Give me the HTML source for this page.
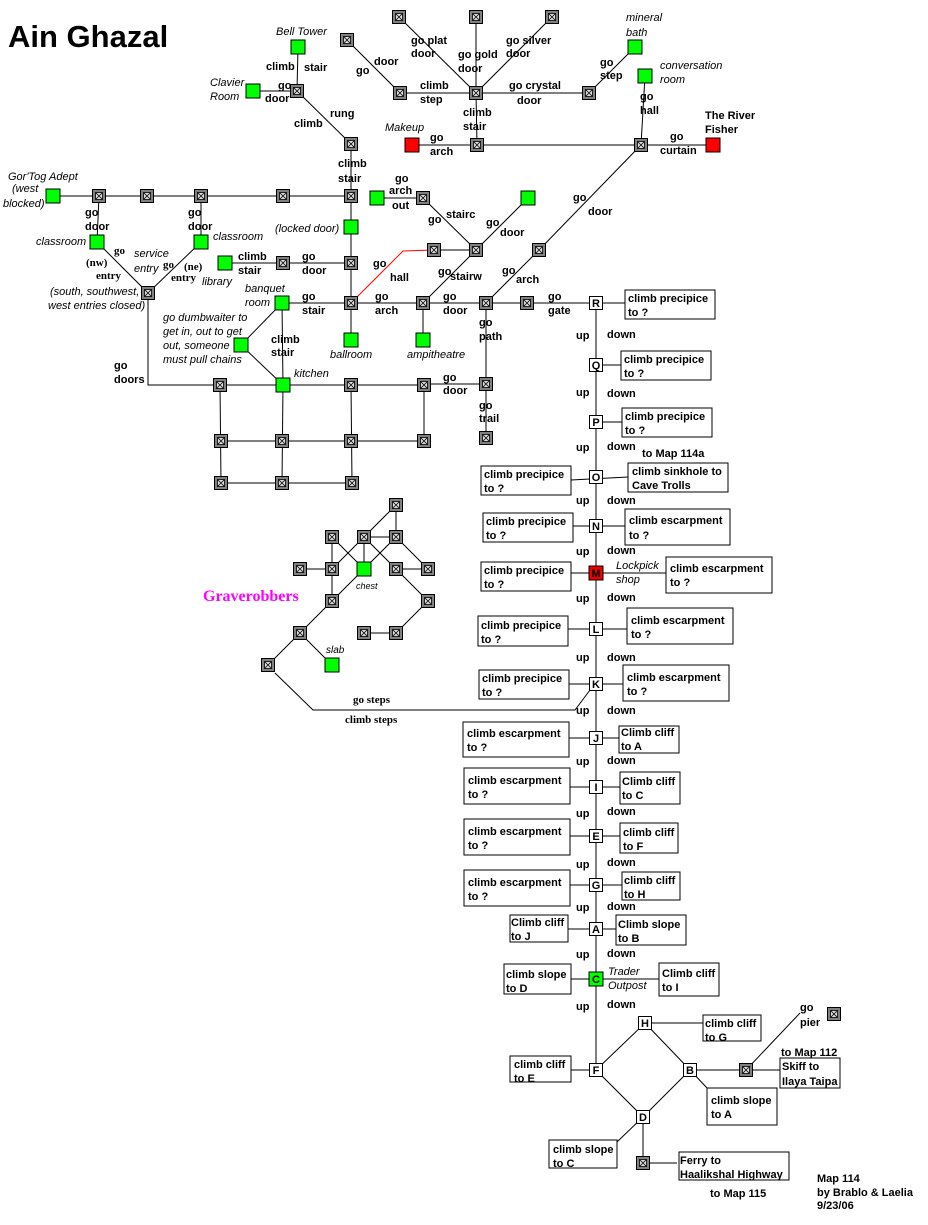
<!DOCTYPE html>
<html><head><meta charset="utf-8"><style>
html,body{margin:0;padding:0;background:#fff;}
svg{display:block}
.b{font:bold 11px "Liberation Sans",sans-serif;fill:#000}
.i{font:italic 11px "Liberation Sans",sans-serif;fill:#000}
.s{font:bold 11px "Liberation Serif",serif;fill:#000}
line,polyline{stroke:#000;stroke-width:1;fill:none}
.bx{fill:#fff;stroke:#000;stroke-width:1}
.gr{fill:#00ff00;stroke:#000}
.rd{fill:#ff0000;stroke:#000}
</style></head><body>
<svg width="928" height="1225" viewBox="0 0 928 1225" xmlns="http://www.w3.org/2000/svg">
<defs>
<g id="g"><rect x="-6.5" y="-6.5" width="13" height="13" fill="#808080" stroke="#000"/><rect x="-3.5" y="-3.5" width="7" height="7" fill="#ddd" stroke="#000" stroke-width="0.8"/><path d="M-3.5-3.5L3.5 3.5M3.5-3.5L-3.5 3.5" stroke="#000" stroke-width="0.8"/></g>
<rect id="n" x="-7" y="-7" width="14" height="14" fill="#00ff00" stroke="#000"/>
<rect id="w" x="-6.5" y="-6.5" width="13" height="13" fill="#fff" stroke="#000"/>
</defs>
<text x="8" y="47" style="font:bold 31px 'Liberation Sans',sans-serif;letter-spacing:0px">Ain Ghazal</text>

<line x1="298" y1="47" x2="297" y2="91"/><line x1="253" y1="91" x2="297" y2="91"/>
<line x1="297" y1="91" x2="351" y2="144"/><line x1="351" y1="144" x2="351" y2="340"/>
<line x1="53" y1="196" x2="351" y2="196"/>
<line x1="99" y1="196" x2="97" y2="242"/><line x1="201" y1="196" x2="201" y2="242"/>
<line x1="97" y1="242" x2="148" y2="293"/><line x1="201" y1="242" x2="148" y2="293"/>
<polyline points="148,293 148,385 220,385"/>
<line x1="225" y1="263" x2="351" y2="263"/>
<line x1="377" y1="198" x2="423" y2="198"/><line x1="423" y1="198" x2="476" y2="250"/>
<polyline points="434,250 403,251 357,297" style="stroke:#f00"/>
<line x1="434" y1="250" x2="476" y2="250"/>
<line x1="476" y1="250" x2="528" y2="198"/><line x1="476" y1="250" x2="423" y2="303"/>
<line x1="539" y1="250" x2="641" y2="145"/><line x1="539" y1="250" x2="486" y2="303"/>
<line x1="282" y1="303" x2="595" y2="303"/><line x1="595" y1="303" x2="625" y2="303"/>
<line x1="423" y1="303" x2="423" y2="340"/>
<line x1="486" y1="303" x2="486" y2="438"/>
<line x1="424" y1="384" x2="486" y2="384"/>
<line x1="282" y1="303" x2="283" y2="385"/><line x1="282" y1="303" x2="241" y2="345"/><line x1="241" y1="345" x2="283" y2="385"/>
<line x1="220" y1="385" x2="424" y2="385"/><line x1="221" y1="441" x2="424" y2="441"/><line x1="221" y1="483" x2="352" y2="483"/>
<line x1="220" y1="385" x2="221" y2="483"/><line x1="283" y1="385" x2="282" y2="483"/><line x1="351" y1="385" x2="352" y2="483"/><line x1="424" y1="385" x2="424" y2="441"/>
<line x1="347" y1="40" x2="400" y2="93"/><line x1="399" y1="17" x2="476" y2="93"/><line x1="476" y1="17" x2="476" y2="93"/><line x1="552" y1="17" x2="476" y2="93"/>
<line x1="400" y1="93" x2="589" y2="93"/><line x1="589" y1="93" x2="635" y2="47"/>
<line x1="476" y1="93" x2="477" y2="145"/><line x1="412" y1="145" x2="713" y2="145"/><line x1="641" y1="145" x2="645" y2="76"/>
<line x1="396" y1="505" x2="396" y2="537"/><line x1="396" y1="505" x2="364" y2="537"/><line x1="364" y1="537" x2="396" y2="537"/>
<line x1="364" y1="537" x2="364" y2="569"/><line x1="332" y1="537" x2="332" y2="601"/><line x1="300" y1="569" x2="332" y2="569"/>
<line x1="332" y1="537" x2="364" y2="569"/><line x1="364" y1="537" x2="332" y2="569"/><line x1="396" y1="537" x2="364" y2="569"/>
<line x1="364" y1="537" x2="396" y2="569"/><line x1="396" y1="569" x2="428" y2="569"/><line x1="396" y1="537" x2="428" y2="569"/>
<line x1="396" y1="569" x2="428" y2="601"/><line x1="428" y1="601" x2="396" y2="633"/><line x1="364" y1="633" x2="396" y2="633"/>
<line x1="332" y1="601" x2="364" y2="569"/><line x1="332" y1="601" x2="300" y2="633"/><line x1="300" y1="633" x2="332" y2="665"/><line x1="300" y1="633" x2="268" y2="665"/>
<polyline points="275,673 313,710 575,710 590,690"/>
<line x1="596" y1="303" x2="596" y2="1070"/>
<line x1="596" y1="1070" x2="645" y2="1023"/><line x1="645" y1="1023" x2="690" y2="1070"/><line x1="596" y1="1070" x2="643" y2="1117"/><line x1="643" y1="1117" x2="690" y2="1070"/>
<line x1="645" y1="1023" x2="703" y2="1023"/><line x1="690" y1="1070" x2="780" y2="1070"/><line x1="746" y1="1070" x2="800" y2="1013"/><line x1="690" y1="1070" x2="708" y2="1089"/>
<line x1="643" y1="1117" x2="617" y2="1142"/><line x1="643" y1="1117" x2="643" y2="1163"/><line x1="643" y1="1163" x2="677" y2="1163"/>
<line x1="571" y1="480" x2="628" y2="477"/><line x1="573" y1="526" x2="625" y2="526"/><line x1="571" y1="573" x2="666" y2="573"/>
<line x1="568" y1="629" x2="627" y2="629"/><line x1="569" y1="684" x2="623" y2="684"/><line x1="569" y1="738" x2="619" y2="738"/>
<line x1="570" y1="787" x2="620" y2="787"/><line x1="570" y1="836" x2="620" y2="836"/><line x1="570" y1="885" x2="622" y2="885"/>
<line x1="568" y1="929" x2="616" y2="929"/><line x1="571" y1="979" x2="659" y2="979"/><line x1="571" y1="1070" x2="596" y2="1070"/>
<line x1="596" y1="365" x2="621" y2="365"/><line x1="596" y1="422" x2="622" y2="422"/>

<use href="#g" x="297" y="91"/><use href="#g" x="351" y="144"/><use href="#g" x="99" y="196"/><use href="#g" x="147" y="196"/><use href="#g" x="201" y="196"/><use href="#g" x="283" y="196"/><use href="#g" x="351" y="196"/>
<use href="#g" x="351" y="263"/><use href="#g" x="283" y="263"/><use href="#g" x="148" y="293"/><use href="#g" x="423" y="198"/><use href="#g" x="434" y="250"/><use href="#g" x="476" y="250"/><use href="#g" x="539" y="250"/>
<use href="#g" x="351" y="303"/><use href="#g" x="423" y="303"/><use href="#g" x="486" y="303"/><use href="#g" x="527" y="303"/><use href="#g" x="486" y="384"/><use href="#g" x="486" y="438"/>
<use href="#g" x="220" y="385"/><use href="#g" x="351" y="385"/><use href="#g" x="424" y="385"/><use href="#g" x="221" y="441"/><use href="#g" x="282" y="441"/><use href="#g" x="351" y="441"/><use href="#g" x="424" y="441"/><use href="#g" x="221" y="483"/><use href="#g" x="282" y="483"/><use href="#g" x="352" y="483"/>
<use href="#g" x="399" y="17"/><use href="#g" x="476" y="17"/><use href="#g" x="552" y="17"/><use href="#g" x="347" y="40"/><use href="#g" x="400" y="93"/><use href="#g" x="476" y="93"/><use href="#g" x="589" y="93"/><use href="#g" x="477" y="145"/><use href="#g" x="641" y="145"/>
<use href="#g" x="396" y="505"/><use href="#g" x="332" y="537"/><use href="#g" x="364" y="537"/><use href="#g" x="396" y="537"/><use href="#g" x="300" y="569"/><use href="#g" x="332" y="569"/><use href="#g" x="396" y="569"/><use href="#g" x="428" y="569"/><use href="#g" x="332" y="601"/><use href="#g" x="428" y="601"/><use href="#g" x="300" y="633"/><use href="#g" x="364" y="633"/><use href="#g" x="396" y="633"/><use href="#g" x="268" y="665"/>
<use href="#g" x="746" y="1070"/><use href="#g" x="834" y="1014"/><use href="#g" x="643" y="1163"/>
<use href="#n" x="298" y="47"/><use href="#n" x="253" y="91"/><use href="#n" x="53" y="196"/><use href="#n" x="97" y="242"/><use href="#n" x="201" y="242"/><use href="#n" x="351" y="227"/><use href="#n" x="225" y="263"/><use href="#n" x="377" y="198"/><use href="#n" x="528" y="198"/>
<use href="#n" x="282" y="303"/><use href="#n" x="351" y="340"/><use href="#n" x="423" y="340"/><use href="#n" x="241" y="345"/><use href="#n" x="283" y="385"/><use href="#n" x="635" y="47"/><use href="#n" x="645" y="76"/><use href="#n" x="364" y="569"/><use href="#n" x="332" y="665"/>
<rect x="405" y="138" width="14" height="14" class="rd"/><rect x="706" y="138" width="14" height="14" class="rd"/>
<g class="b" text-anchor="middle">
<use href="#w" x="596" y="303"/><text x="596" y="307">R</text>
<use href="#w" x="596" y="365"/><text x="596" y="369">Q</text>
<use href="#w" x="596" y="422"/><text x="596" y="426">P</text>
<use href="#w" x="596" y="477"/><text x="596" y="481">O</text>
<use href="#w" x="596" y="526"/><text x="596" y="530">N</text>
<rect x="589" y="566" width="14" height="14" fill="#e00" stroke="#000"/><text x="596" y="577">M</text>
<use href="#w" x="596" y="629"/><text x="596" y="633">L</text>
<use href="#w" x="596" y="684"/><text x="596" y="688">K</text>
<use href="#w" x="596" y="738"/><text x="596" y="742">J</text>
<use href="#w" x="596" y="787"/><text x="596" y="791">I</text>
<use href="#w" x="596" y="836"/><text x="596" y="840">E</text>
<use href="#w" x="596" y="885"/><text x="596" y="889">G</text>
<use href="#w" x="596" y="929"/><text x="596" y="933">A</text>
<use href="#n" x="596" y="979"/><text x="596" y="983">C</text>
<use href="#w" x="596" y="1070"/><text x="596" y="1074">F</text>
<use href="#w" x="645" y="1023"/><text x="645" y="1027">H</text>
<use href="#w" x="690" y="1070"/><text x="690" y="1074">B</text>
<use href="#w" x="643" y="1117"/><text x="643" y="1121">D</text>
</g>
<g class="b">
<rect class="bx" x="625" y="290" width="90" height="29"/><text x="628" y="302">climb precipice</text><text x="628" y="316">to ?</text>
<rect class="bx" x="621" y="351" width="90" height="29"/><text x="624" y="363">climb precipice</text><text x="624" y="377">to ?</text>
<rect class="bx" x="622" y="408" width="90" height="29"/><text x="625" y="420">climb precipice</text><text x="625" y="434">to ?</text>
<rect class="bx" x="481" y="466" width="90" height="29"/><text x="484" y="478">climb precipice</text><text x="484" y="492">to ?</text>
<rect class="bx" x="628" y="463" width="100" height="29"/><text x="632" y="475">climb sinkhole to</text><text x="632" y="489">Cave Trolls</text>
<rect class="bx" x="483" y="513" width="90" height="29"/><text x="486" y="525">climb precipice</text><text x="486" y="539">to ?</text>
<rect class="bx" x="625" y="509" width="105" height="36"/><text x="629" y="524">climb escarpment</text><text x="629" y="539">to ?</text>
<rect class="bx" x="481" y="562" width="90" height="29"/><text x="484" y="574">climb precipice</text><text x="484" y="588">to ?</text>
<rect class="bx" x="666" y="557" width="106" height="36"/><text x="670" y="572">climb escarpment</text><text x="670" y="586">to ?</text>
<rect class="bx" x="478" y="616" width="90" height="30"/><text x="481" y="629">climb precipice</text><text x="481" y="643">to ?</text>
<rect class="bx" x="627" y="608" width="106" height="36"/><text x="631" y="624">climb escarpment</text><text x="631" y="638">to ?</text>
<rect class="bx" x="479" y="670" width="90" height="29"/><text x="482" y="682">climb precipice</text><text x="482" y="696">to ?</text>
<rect class="bx" x="623" y="665" width="106" height="36"/><text x="627" y="681">climb escarpment</text><text x="627" y="695">to ?</text>
<rect class="bx" x="463" y="722" width="106" height="35"/><text x="467" y="737">climb escarpment</text><text x="467" y="751">to ?</text>
<rect class="bx" x="619" y="726" width="60" height="27"/><text x="621" y="736">Climb cliff</text><text x="621" y="750">to A</text>
<rect class="bx" x="464" y="768" width="106" height="36"/><text x="468" y="784">climb escarpment</text><text x="468" y="798">to ?</text>
<rect class="bx" x="620" y="772" width="60" height="32"/><text x="622" y="785">Climb cliff</text><text x="622" y="799">to C</text>
<rect class="bx" x="464" y="819" width="106" height="36"/><text x="468" y="835">climb escarpment</text><text x="468" y="849">to ?</text>
<rect class="bx" x="620" y="823" width="58" height="30"/><text x="623" y="836">climb cliff</text><text x="623" y="850">to F</text>
<rect class="bx" x="464" y="870" width="106" height="36"/><text x="468" y="886">climb escarpment</text><text x="468" y="900">to ?</text>
<rect class="bx" x="622" y="872" width="58" height="28"/><text x="624" y="884">climb cliff</text><text x="624" y="898">to H</text>
<rect class="bx" x="510" y="915" width="58" height="27"/><text x="511" y="926">Climb cliff</text><text x="511" y="940">to J</text>
<rect class="bx" x="616" y="915" width="70" height="30"/><text x="618" y="928">Climb slope</text><text x="618" y="942">to B</text>
<rect class="bx" x="504" y="964" width="67" height="30"/><text x="506" y="978">climb slope</text><text x="506" y="992">to D</text>
<rect class="bx" x="659" y="963" width="60" height="33"/><text x="662" y="977">Climb cliff</text><text x="662" y="991">to I</text>
<rect class="bx" x="510" y="1056" width="61" height="26"/><text x="514" y="1068">climb cliff</text><text x="514" y="1082">to E</text>
<rect class="bx" x="703" y="1015" width="58" height="26"/><text x="705" y="1027">climb cliff</text><text x="705" y="1041">to G</text>
<rect class="bx" x="780" y="1058" width="60" height="30"/><text x="782" y="1070">Skiff to</text><text x="782" y="1085">Ilaya Taipa</text>
<rect class="bx" x="707" y="1088" width="70" height="37"/><text x="711" y="1104">climb slope</text><text x="711" y="1118">to A</text>
<rect class="bx" x="549" y="1140" width="68" height="28"/><text x="553" y="1153">climb slope</text><text x="553" y="1167">to C</text>
<rect class="bx" x="679" y="1152" width="110" height="28"/><text x="680" y="1164">Ferry to</text><text x="680" y="1178">Haalikshal Highway</text>
</g>
<g class="b">
<text x="576" y="339">up</text><text x="607" y="338">down</text>
<text x="576" y="396">up</text><text x="607" y="397">down</text>
<text x="576" y="451">up</text><text x="607" y="450">down</text><text x="642" y="457">to Map 114a</text>
<text x="576" y="504">up</text><text x="607" y="504">down</text>
<text x="576" y="555">up</text><text x="607" y="554">down</text>
<text x="576" y="602">up</text><text x="607" y="601">down</text>
<text x="576" y="661">up</text><text x="607" y="661">down</text>
<text x="576" y="714">up</text><text x="607" y="714">down</text>
<text x="576" y="765">up</text><text x="607" y="764">down</text>
<text x="576" y="817">up</text><text x="607" y="815">down</text>
<text x="576" y="868">up</text><text x="607" y="866">down</text>
<text x="576" y="911">up</text><text x="607" y="910">down</text>
<text x="576" y="958">up</text><text x="607" y="957">down</text>
<text x="576" y="1010">up</text><text x="607" y="1008">down</text>
<text x="781" y="1056">to Map 112</text><text x="800" y="1011">go</text><text x="800" y="1026">pier</text>
<text x="710" y="1197">to Map 115</text>
<text x="817" y="1182">Map 114</text><text x="817" y="1196">by Brablo &amp; Laelia</text><text x="817" y="1209">9/23/06</text>
</g>
<g class="i"><text x="608" y="975">Trader</text><text x="608" y="989">Outpost</text><text x="616" y="569">Lockpick</text><text x="616" y="583">shop</text></g>
<g class="b">
<text x="266" y="70">climb</text><text x="304" y="71">stair</text>
<text x="278" y="89">go</text><text x="265" y="102">door</text>
<text x="330" y="117">rung</text><text x="294" y="127">climb</text>
<text x="338" y="167">climb</text><text x="338" y="182">stair</text>
<text x="85" y="216">go</text><text x="85" y="230">door</text><text x="188" y="216">go</text><text x="188" y="230">door</text>
<text x="238" y="260">climb</text><text x="238" y="274">stair</text><text x="302" y="260">go</text><text x="302" y="274">door</text>
<text x="395" y="182">go</text><text x="389" y="194">arch</text><text x="392" y="209">out</text>
<text x="428" y="223">go</text><text x="446" y="218">stairc</text>
<text x="373" y="267">go</text><text x="390" y="281">hall</text>
<text x="486" y="226">go</text><text x="500" y="236">door</text>
<text x="438" y="275">go</text><text x="438" y="280" dx="12">stairw</text>
<text x="573" y="201">go</text><text x="588" y="215">door</text>
<text x="502" y="274">go</text><text x="516" y="283">arch</text>
<text x="302" y="300">go</text><text x="302" y="314">stair</text><text x="375" y="300">go</text><text x="375" y="314">arch</text>
<text x="443" y="300">go</text><text x="443" y="314">door</text><text x="548" y="300">go</text><text x="548" y="314">gate</text>
<text x="479" y="326">go</text><text x="479" y="340">path</text>
<text x="271" y="343">climb</text><text x="271" y="356">stair</text>
<text x="443" y="381">go</text><text x="443" y="394">door</text>
<text x="479" y="409">go</text><text x="479" y="422">trail</text>
<text x="114" y="369">go</text><text x="114" y="383">doors</text>
<text x="356" y="74">go</text><text x="374" y="65">door</text>
<text x="411" y="44">go plat</text><text x="411" y="57">door</text>
<text x="458" y="58">go gold</text><text x="458" y="72">door</text>
<text x="506" y="44">go silver</text><text x="506" y="57">door</text>
<text x="420" y="89">climb</text><text x="420" y="103">step</text>
<text x="509" y="89">go crystal</text><text x="517" y="104">door</text>
<text x="600" y="66">go</text><text x="600" y="79">step</text>
<text x="463" y="116">climb</text><text x="463" y="130">stair</text>
<text x="430" y="141">go</text><text x="430" y="155">arch</text>
<text x="640" y="100">go</text><text x="640" y="114">hall</text>
<text x="670" y="140">go</text><text x="660" y="154">curtain</text>
<text x="705" y="119">The River</text><text x="705" y="133">Fisher</text>
</g>
<g class="s">
<text x="114" y="254">go</text><text x="86" y="266">(nw)</text><text x="96" y="279">entry</text>
<text x="163" y="268">go</text><text x="184" y="270">(ne)</text><text x="171" y="281">entry</text>
<text x="353" y="703">go steps</text><text x="345" y="723">climb steps</text>
</g>
<g class="i">
<text x="276" y="35">Bell Tower</text><text x="210" y="86">Clavier</text><text x="210" y="100">Room</text>
<text x="8" y="180">Gor'Tog Adept</text><text x="12" y="192">(west</text><text x="3" y="207">blocked)</text>
<text x="36" y="245">classroom</text><text x="213" y="240">classroom</text><text x="275" y="232">(locked door)</text>
<text x="134" y="257">service</text><text x="134" y="272">entry</text><text x="202" y="285">library</text>
<text x="50" y="295">(south, southwest,</text><text x="48" y="309">west entries closed)</text>
<text x="245" y="292">banquet</text><text x="245" y="306">room</text>
<text x="163" y="321">go dumbwaiter to</text><text x="163" y="335">get in, out to get</text><text x="163" y="349">out, someone</text><text x="163" y="363">must pull chains</text>
<text x="294" y="377">kitchen</text><text x="330" y="358">ballroom</text><text x="407" y="358">ampitheatre</text>
<text x="385" y="131">Makeup</text><text x="626" y="21">mineral</text><text x="626" y="36">bath</text>
<text x="660" y="69">conversation</text><text x="660" y="83">room</text>
<text x="356" y="589" style="font-size:9px">chest</text><text x="326" y="653" style="font-size:10px">slab</text>
</g>
<text x="203" y="601" style="font:bold 16px 'Liberation Serif',serif;fill:#ff00ff">Graverobbers</text>
</svg>
</body></html>
